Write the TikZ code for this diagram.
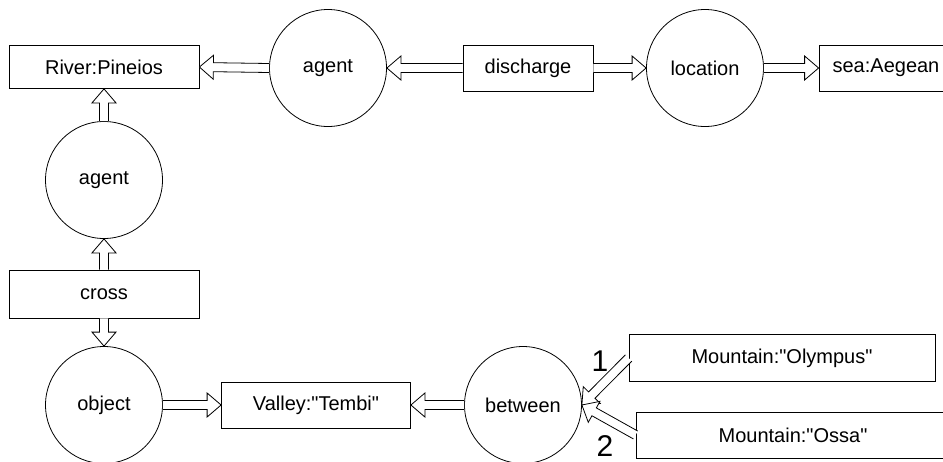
\documentclass[tikz,border=0pt]{standalone}
\usepackage{fontspec}
\setmainfont{Liberation Sans}
\usetikzlibrary{shapes,arrows,positioning,calc}

\tikzset{
  concept/.style={draw, rectangle, minimum height=46pt, inner sep=0pt,
    font=\fontsize{20}{24}\selectfont},
  relation/.style={draw, circle, minimum size=117pt, inner sep=0pt,
    font=\fontsize{20}{24}\selectfont},
  argnum/.style={font=\fontsize{30}{36}\selectfont, inner sep=0pt},
}

% hollow block arrow from #1 to #2
\newcommand{\hollowto}[2]{%
  \coordinate (h) at ($(#2)!14pt!(#1)$);
  \draw[fill=white] ($(#1)!4.5pt!90:(#2)$) -- ($(h)!4.5pt!90:(#2)$)
    -- ($(h)!12pt!90:(#2)$) -- (#2) -- ($(h)!12pt!-90:(#2)$)
    -- ($(h)!4.5pt!-90:(#2)$) -- ($(#1)!4.5pt!-90:(#2)$);
}
\newcommand{\dq}{\textquotedbl}

\begin{document}
\begin{tikzpicture}[x=1pt, y=-1pt, line width=0.8pt]
  \useasboundingbox (0,0) rectangle (943,461);
  \clip (0,0) rectangle (943,461);

  % top row
  \node[concept, minimum width=190pt, minimum height=43pt] (river) at (104,67) {River:Pineios};
  \node[relation] (agentT) at (328,68) {agent};
  \node[concept, minimum width=130pt] (discharge) at (528,68) {discharge};
  \node[relation] (location) at (705,68) {location};
  \node[concept, minimum width=134pt] (sea) at (886,68) {sea:Aegean};

  % left column
  \node[relation] (agentL) at (104,180) {agent};
  \node[concept, minimum width=190pt, minimum height=48pt] (cross) at (104,294) {cross};
  \node[relation] (object) at (104,405) {object};

  % bottom row
  \node[concept, minimum width=189pt] (valley) at (316,405) {Valley:\dq Tembi\dq};
  \node[relation] (between) at (523,405) {between};
  \node[concept, minimum width=306pt, minimum height=47pt] (olympus) at (782,358) {Mountain:\dq Olympus\dq};
  \node[concept, minimum width=314pt] (ossa) at (793,435) {Mountain:\dq Ossa\dq};
  \node[argnum] (n1) at (600,361) {1};
  \node[argnum] (n2) at (605,446) {2};

  \hollowto{agentT.west}{river.east}
  \hollowto{discharge.west}{agentT.east}
  \hollowto{discharge.east}{location.west}
  \hollowto{location.east}{sea.west}
  \hollowto{agentL.north}{river.south}
  \hollowto{cross.north}{agentL.south}
  \hollowto{cross.south}{object.north}
  \hollowto{object.east}{valley.west}
  \hollowto{between.west}{valley.east}
  \hollowto{olympus.west}{between.east}
  \hollowto{ossa.west}{between.east}
\end{tikzpicture}
\end{document}
